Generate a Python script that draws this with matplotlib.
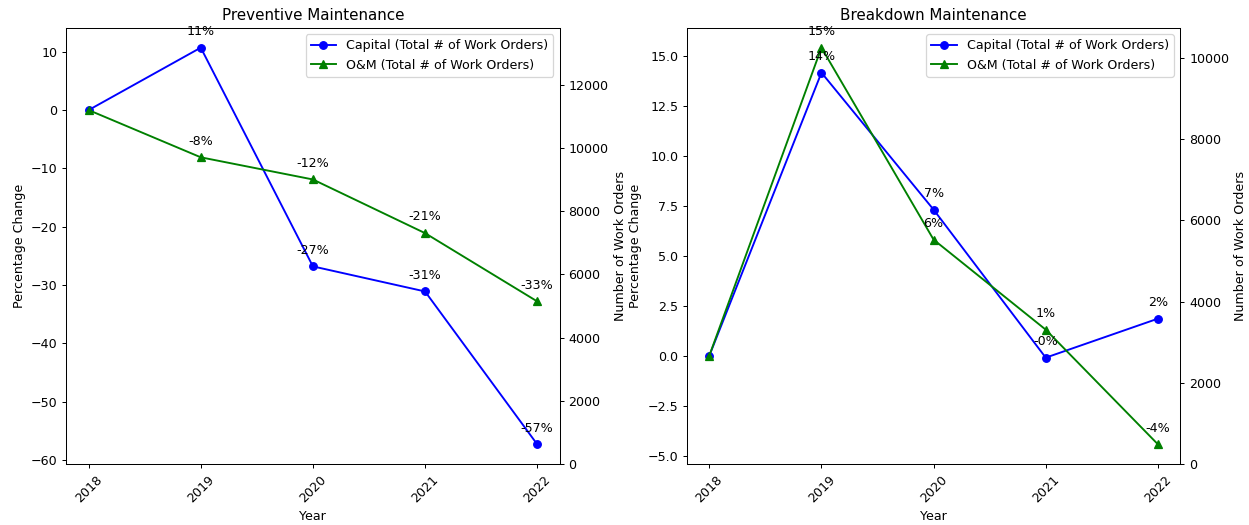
import matplotlib
matplotlib.use("Agg")
import matplotlib.pyplot as plt

years = ["2018", "2019", "2020", "2021", "2022"]

prev_capital = [0.0, 10.7, -26.8, -31.1, -57.3]
prev_om = [0.0, -8.1, -11.9, -21.1, -32.8]

brk_capital = [0.0, 14.15, 7.3, -0.1, 1.85]
brk_om = [0.0, 15.4, 5.8, 1.3, -4.43]

panels = [
    ("Preventive Maintenance", prev_capital, prev_om, 13800),
    ("Breakdown Maintenance", brk_capital, brk_om, 10740),
]

DPI = 91
fig, axes = plt.subplots(1, 2, figsize=(1249 / DPI, 525 / DPI), dpi=DPI)
fig.subplots_adjust(left=0.053, right=0.945, top=0.947, bottom=0.116, wspace=0.258)

for ax, (title, cap, om, rmax) in zip(axes, panels):
    x = list(range(len(years)))
    ax.plot(x, cap, marker="o", color="blue", label="Capital (Total # of Work Orders)")
    ax.plot(x, om, marker="^", color="green", label="O&M (Total # of Work Orders)")
    for series in (cap, om):
        for xi, v in list(zip(x, series))[1:]:
            ax.annotate(f"{v:.0f}%", (xi, v), textcoords="offset points",
                        xytext=(0, 10), ha="center", fontsize=10)
    ax.set_xticks(x)
    ax.set_xticklabels(years, rotation=45)
    ax.set_xlabel("Year")
    ax.set_ylabel("Percentage Change")
    ax.set_title(title)
    ax.legend(loc="upper right")
    ax2 = ax.twinx()
    ax2.set_ylim(0, rmax)
    ax2.set_ylabel("Number of Work Orders")

fig.savefig("out.png", dpi=DPI)
